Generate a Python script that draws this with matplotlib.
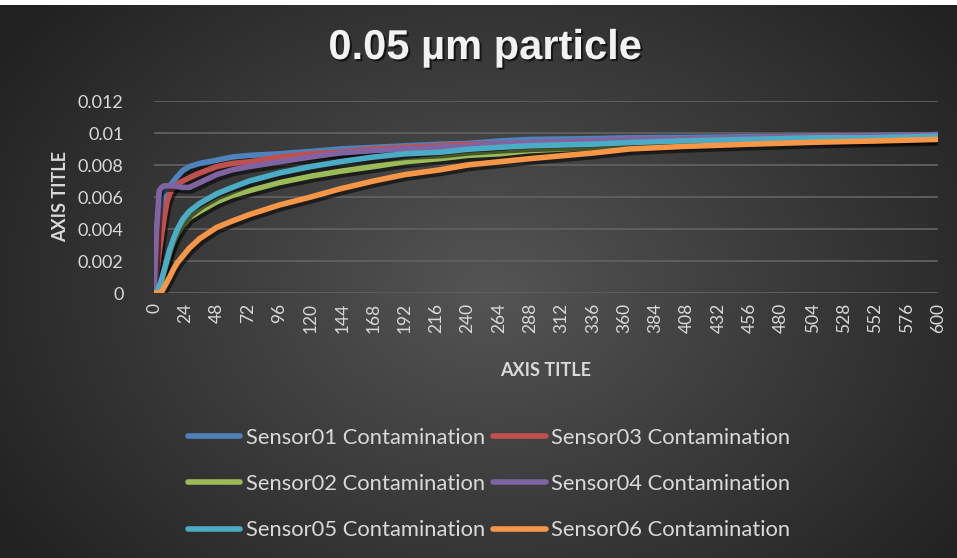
import numpy as np
import matplotlib
matplotlib.use("Agg")
import matplotlib.pyplot as plt
import matplotlib.patheffects as pe

# sample times (s) and sensor readings
time = [0, 2, 4, 6, 8, 10, 12, 15, 18, 22, 27, 35, 48, 60, 73, 96, 120, 142,
        168, 192, 219, 240, 264, 288, 336, 364, 403, 456, 510, 552, 600]

sensor01 = [0, 0.0015, 0.0035, 0.0050, 0.0058, 0.0064, 0.0067, 0.0070, 0.0073,
            0.00765, 0.0079, 0.0081, 0.0083, 0.0085, 0.0086, 0.0087, 0.00885,
            0.0090, 0.0091, 0.0092, 0.0093, 0.00935, 0.0095, 0.0096, 0.00965,
            0.0097, 0.00972, 0.00977, 0.0098, 0.00985, 0.0099]
sensor03 = [0, 0.0012, 0.0025, 0.0037, 0.0048, 0.0057, 0.0062, 0.0066, 0.0068,
            0.0070, 0.0072, 0.0075, 0.0079, 0.0081, 0.0082, 0.0085, 0.0087,
            0.0088, 0.0090, 0.0091, 0.0092, 0.0093, 0.0093, 0.0094, 0.0095,
            0.0096, 0.0096, 0.0097, 0.0098, 0.0098, 0.0099]
sensor02 = [0, 0.0, 0.0003, 0.0008, 0.0014, 0.0019, 0.0025, 0.0032, 0.0037,
            0.0042, 0.0047, 0.0051, 0.0057, 0.0061, 0.0064, 0.0069, 0.0073,
            0.0076, 0.0079, 0.0082, 0.0084, 0.0086, 0.0087, 0.0089, 0.0091,
            0.0092, 0.0093, 0.0095, 0.0096, 0.0096, 0.0097]
sensor04 = [0, 0.0040, 0.0064, 0.0066, 0.0067, 0.0067, 0.0067, 0.0067, 0.00665,
            0.0066, 0.0066, 0.0069, 0.0074, 0.0077, 0.0079, 0.0082, 0.0085,
            0.00875, 0.0089, 0.0090, 0.0091, 0.0092, 0.0093, 0.0094, 0.0095,
            0.0096, 0.0096, 0.0097, 0.0098, 0.0098, 0.0099]
sensor05 = [0, 0.0, 0.0004, 0.0009, 0.0015, 0.0021, 0.0027, 0.0034, 0.0040,
            0.0046, 0.0051, 0.0056, 0.0062, 0.0066, 0.0070, 0.0075, 0.0079,
            0.0082, 0.0085, 0.0087, 0.0088, 0.00898, 0.0091, 0.0092, 0.0093,
            0.0094, 0.0095, 0.0096, 0.0097, 0.0097, 0.0098]
sensor06 = [0, 0, 0, 0.0001, 0.0004, 0.0007, 0.0010, 0.0015, 0.0019, 0.0023,
            0.0028, 0.0034, 0.0041, 0.0045, 0.0049, 0.0055, 0.0060, 0.0065,
            0.0070, 0.0074, 0.0077, 0.0080, 0.0082, 0.0084, 0.00875, 0.0090,
            0.00915, 0.0093, 0.00943, 0.0095, 0.0096]

series = [
    ("Sensor01 Contamination", sensor01, "#4F81BD"),
    ("Sensor03 Contamination", sensor03, "#C0504D"),
    ("Sensor02 Contamination", sensor02, "#9BBB59"),
    ("Sensor04 Contamination", sensor04, "#8064A2"),
    ("Sensor05 Contamination", sensor05, "#4BACC6"),
    ("Sensor06 Contamination", sensor06, "#F79646"),
]

xticks = list(range(0, 601, 24))
yticks = [0, 0.002, 0.004, 0.006, 0.008, 0.01, 0.012]
ytick_labels = ["0", "0.002", "0.004", "0.006", "0.008", "0.01", "0.012"]

W, H, DPI = 957, 558, 100
fig = plt.figure(figsize=(W / DPI, H / DPI), dpi=DPI)

# dark radial background (row 0 = top of figure)
yy, xx = np.mgrid[0:H, 0:W]
r = np.sqrt(((xx - 490) / 560.0) ** 2 + ((yy - 290) / 420.0) ** 2)
shade = np.clip(0.33 - 0.19 * r, 0.13, 0.33)
bg = np.dstack([shade, shade, shade])
bg[:5, :, :] = 1.0
fig.figimage(bg, 0, 0, zorder=0, origin="upper")

ax = fig.add_axes([154 / W, 1 - 293 / H, (938 - 154) / W, (293 - 101) / H])
ax.set_facecolor("none")
ax.set_zorder(2)

lines = {}
for i, (name, vals, col) in enumerate(series):
    ln, = ax.plot(time, vals, color=col, lw=4, solid_capstyle="round",
                  solid_joinstyle="round", label=name, zorder=3 + i,
                  path_effects=[pe.SimpleLineShadow(offset=(1.5, -2.5), alpha=0.55,
                                                    shadow_color="black"),
                                pe.Normal()])
    lines[name] = ln

ax.set_xlim(0, 600)
ax.set_ylim(0, 0.012)
ax.set_xticks(xticks)
ax.set_xticklabels([str(v) for v in xticks], rotation=90, fontsize=12.5,
                   color="#D9D9D9", family="Lato")
ax.set_yticks(yticks)
ax.set_yticklabels(ytick_labels, fontsize=13, color="#D9D9D9", family="Lato")
ax.tick_params(axis="both", length=0)
ax.tick_params(axis="y", pad=22)
ax.tick_params(axis="x", pad=7)
for s in ax.spines.values():
    s.set_visible(False)
ax.grid(axis="y", color="#606060", lw=1.3)
ax.set_axisbelow(True)

ax.set_xlabel("AXIS TITLE", fontsize=13, fontweight="bold", color="#D9D9D9",
              family="Lato", labelpad=21)
ax.set_ylabel("AXIS TITLE", fontsize=13, fontweight="bold", color="#D9D9D9",
              family="Lato", labelpad=6)

title = fig.text(0.507, 1 - 48 / H, "0.05 µm particle", ha="center", va="center",
                 fontsize=30, fontweight="bold", color="#F2F2F2",
                 family="Liberation Sans")
title.set_path_effects([pe.withSimplePatchShadow(offset=(1.5, -1.5), alpha=0.6,
                                                 shadow_rgbFace="black")])

# legend laid out row-wise: 01 03 / 02 04 / 05 06
order = ["Sensor01 Contamination", "Sensor02 Contamination", "Sensor05 Contamination",
         "Sensor03 Contamination", "Sensor04 Contamination", "Sensor06 Contamination"]
handles = [plt.Line2D([], [], color=lines[n].get_color(), lw=4,
                      solid_capstyle="round") for n in order]
leg = fig.legend(handles, order, ncol=2, loc="center",
                 bbox_to_anchor=(489 / W, 1 - 484 / H), frameon=False,
                 handlelength=2.4, handletextpad=0.25, columnspacing=0.35,
                 labelspacing=1.2, prop={"family": "Lato", "size": 15.8})
for t in leg.get_texts():
    t.set_color("#D9D9D9")

fig.savefig("out.png", dpi=DPI)
